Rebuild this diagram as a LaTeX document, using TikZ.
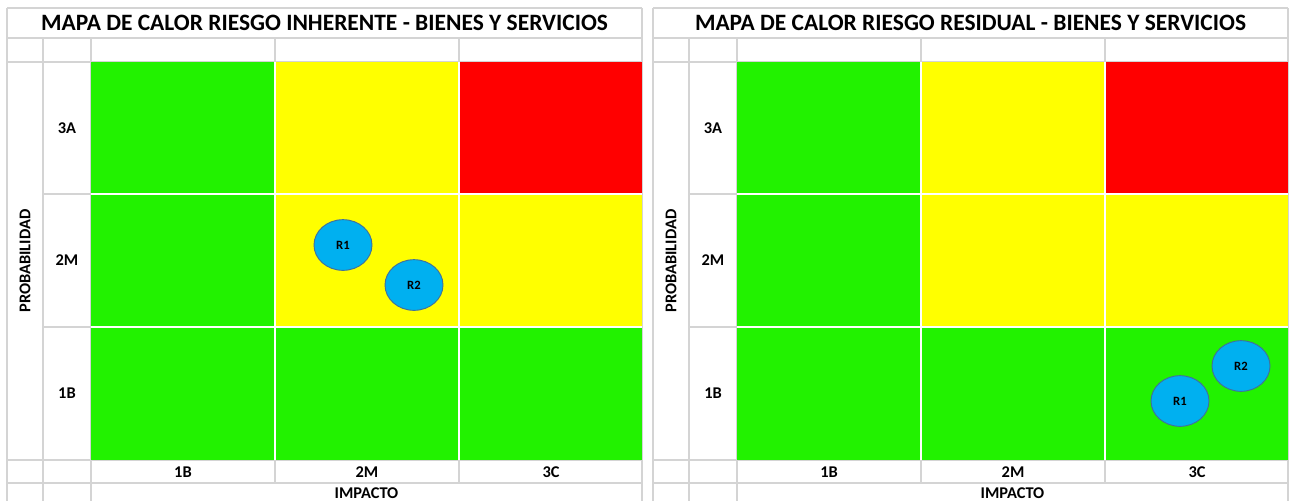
\documentclass[tikz,border=0pt]{standalone}
\usepackage{fontspec}
\setmainfont{Carlito}
\usetikzlibrary{shapes.geometric}

\definecolor{verde}{RGB}{34,242,0}
\definecolor{amarillo}{RGB}{255,255,0}
\definecolor{rojo}{RGB}{255,0,0}
\definecolor{celeste}{RGB}{0,176,240}
\definecolor{bordeazul}{RGB}{65,113,156}
\definecolor{gris}{RGB}{212,212,212}

\tikzset{
  titulo/.style={font=\bfseries\fontsize{17.6}{20}\selectfont, anchor=base},
  rotulo/.style={font=\bfseries\fontsize{12.3}{14}\selectfont},
  linea/.style={draw=gris, line width=0.9pt},
  separa/.style={draw=white, line width=1.4pt},
  riesgo/.style={ellipse, draw=bordeazul, fill=celeste, line width=0.7pt,
    minimum width=43.5pt, minimum height=38pt, inner sep=0pt,
    font=\bfseries\fontsize{9.5}{11}\selectfont}
}

\begin{document}
\begin{tikzpicture}[x=0.75pt,y=-0.75pt]
\useasboundingbox (0,0) rectangle (1289,501);
\fill[white] (0,0) rectangle (1289,501);

\foreach \p/\dx/\clase in {izq/0/INHERENTE,der/646/RESIDUAL}{
  \begin{scope}[shift={(\dx,0)}]
    % rejilla de la hoja
    \draw[linea] (7,8) -- (642,8) (7,38) -- (642,38) (7,62) -- (642,62)
      (7,460) -- (642,460) (7,483) -- (642,483);
    \draw[linea] (7,8) -- (7,501) (642,8) -- (642,501)
      (43,38) -- (43,501) (91,38) -- (91,501)
      (275,38) -- (275,62) (459,38) -- (459,62)
      (275,460) -- (275,483) (459,460) -- (459,483)
      (43,194) -- (91,194) (43,327) -- (91,327);

    % celdas del mapa
    \foreach \f/\ya/\yb/\ca/\cb/\cc in {3A/62/194/verde/amarillo/rojo,
        2M/194/327/verde/amarillo/amarillo, 1B/327/460/verde/verde/verde}{
      \fill[\ca] (91,\ya) rectangle (275,\yb);
      \fill[\cb] (275,\ya) rectangle (459,\yb);
      \fill[\cc] (459,\ya) rectangle (642,\yb);
      \node[rotulo] (fila-\p-\f) at (67,{(\ya+\yb)/2}) {\f};
    }
    \draw[separa] (275,62) -- (275,460) (459,62) -- (459,460)
      (91,194) -- (642,194) (91,327) -- (642,327);

    % textos
    \node[titulo] (tit-\p) at (324.5,30.5) {MAPA DE CALOR RIESGO \clase{} - BIENES Y SERVICIOS};
    \node[rotulo, rotate=90] (prob-\p) at (25,261) {PROBABILIDAD};
    \foreach \c/\xc in {1B/183,2M/367,3C/551}
      \node[rotulo] (col-\p-\c) at (\xc,472.5) {\c};
    \node[rotulo, anchor=base, inner sep=0pt] (imp-\p) at (366.5,498.5) {IMPACTO};
  \end{scope}
}

% riesgos
\node[riesgo] (r1-izq) at (343,245) {R1};
\node[riesgo] (r2-izq) at (414,285) {R2};
\node[riesgo] (r2-der) at (1241,366) {R2};
\node[riesgo] (r1-der) at (1180,401) {R1};
\end{tikzpicture}
\end{document}
